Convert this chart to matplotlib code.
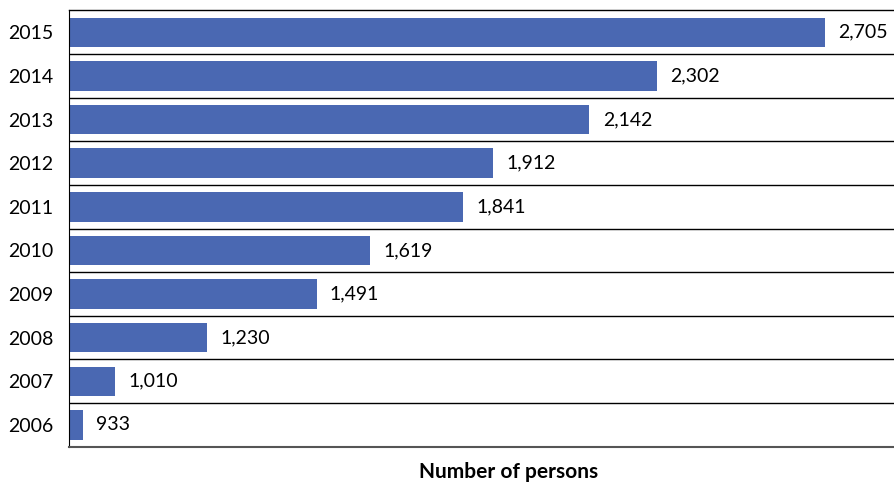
import numpy as np
import matplotlib
matplotlib.use("Agg")
from matplotlib import pyplot as plt

years = ["2006", "2007", "2008", "2009", "2010", "2011", "2012", "2013", "2014", "2015"]
persons = [933, 1010, 1230, 1491, 1619, 1841, 1912, 2142, 2302, 2705]

plt.rcParams['font.family'] = ['Lato', 'DejaVu Sans']

W, H = 895, 482
fig = plt.figure(figsize=(W / 100, H / 100), dpi=100)
# axes runs on past the right edge (original axis ends at 3000, cropped)
left, right, top, bottom = 69, 949, 10.5, 446.7
ax = fig.add_axes([left / W, 1 - bottom / H, (right - left) / W, (bottom - top) / H])

y = np.arange(len(years))
ax.barh(y, persons, height=0.675, color="#4a68b2", left=0)
ax.set_xlim(900, 3000)
ax.set_ylim(-0.5, len(years) - 0.5)

for yi, v in zip(y, persons):
    ax.annotate(f"{v:,}", (v, yi), xytext=(9.5, 0), textcoords="offset points",
                va="center", ha="left", fontsize=14, color="black")

ax.set_yticks(y)
ax.set_yticklabels(years, fontsize=14)
ax.tick_params(axis="y", length=0, pad=11)
ax.set_xticks([])

for b in np.arange(0.5, len(years) - 0.5, 1):
    ax.axhline(b, color="black", lw=1.0)

ax.spines["right"].set_visible(False)
ax.spines["top"].set_color("black")
ax.spines["top"].set_linewidth(1.0)
ax.spines["left"].set_color("black")
ax.spines["bottom"].set_color("#555555")
ax.spines["bottom"].set_linewidth(1.5)

ax.set_xlabel("Number of persons", fontsize=15, fontweight="bold", labelpad=11)

fig.savefig("out.png", dpi=100)
